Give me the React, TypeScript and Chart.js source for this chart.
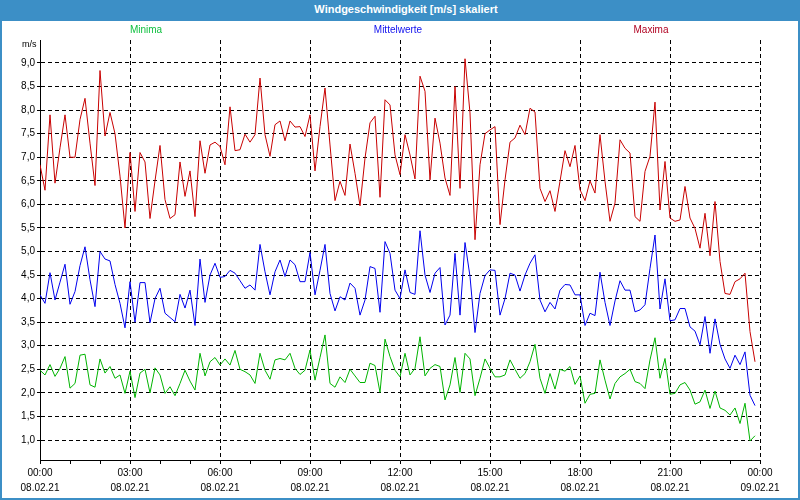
import React, { useEffect, useRef } from "react";
import { Chart, registerables } from "chart.js";

Chart.register(...registerables);

// 10-minute samples, 08.02.21 00:00 .. 23:50
const stepMinutes = 10;

const maxima = [
  6.84, 6.3, 7.9, 6.45, 7.2, 7.9, 7.0, 7.0, 7.8, 8.25, 7.3, 6.4, 8.84, 7.45, 7.95, 7.5, 6.6, 5.5, 7.1, 5.85, 7.1, 6.9, 5.7, 6.5, 7.25,
  6.1, 5.7, 5.78, 6.9, 6.17, 6.71, 5.74, 7.35, 6.66, 7.26, 7.32, 7.23, 6.84, 8.07, 7.14, 7.16, 7.49, 7.32, 7.48, 8.68, 7.48, 7.02, 7.69, 7.77,
  7.35, 7.77, 7.64, 7.65, 7.44, 7.9, 6.71, 7.65, 8.47, 7.26, 6.08, 6.49, 6.19, 7.28, 6.66, 5.97, 6.98, 7.73, 7.87, 6.15, 8.22, 8.11, 7.05, 6.63,
  7.48, 7.05, 6.54, 8.72, 8.4, 6.52, 7.83, 7.3, 6.56, 6.19, 8.5, 6.34, 9.09, 7.94, 5.25, 6.84, 7.5, 7.58, 7.65, 5.57, 6.52, 7.32, 7.41, 7.68,
  7.48, 8.04, 7.96, 6.34, 6.06, 6.29, 5.85, 6.49, 7.14, 6.8, 7.25, 6.31, 6.08, 6.5, 6.24, 7.48, 6.49, 5.64, 6.03, 7.37, 7.19, 7.09, 5.74, 5.64,
  6.7, 7.02, 8.17, 5.88, 6.91, 5.71, 5.64, 5.67, 6.38, 5.71, 5.49, 5.07, 5.81, 4.91, 6.06, 4.79, 4.11, 4.09, 4.36, 4.42, 4.54, 3.3, 2.66,
];

const mittelwerte = [
  4.08, 3.9, 4.55, 3.97, 4.35, 4.73, 3.88, 4.15, 4.7, 5.1, 4.4, 3.83, 5.0, 4.84, 4.8, 4.3, 3.9, 3.38, 4.36, 3.5, 4.34, 4.34, 3.49, 4.0, 4.22,
  3.69, 3.6, 3.51, 4.09, 3.8, 4.18, 3.43, 4.84, 3.92, 4.5, 4.75, 4.45, 4.47, 4.6, 4.54, 4.38, 4.22, 4.29, 4.18, 5.15, 4.57, 4.08, 4.57, 4.82,
  4.47, 4.82, 4.72, 4.36, 4.36, 4.98, 4.08, 4.6, 5.15, 4.11, 3.74, 4.04, 3.97, 4.33, 4.22, 3.65, 3.97, 4.68, 4.64, 3.71, 5.21, 4.96, 4.18, 4.0,
  4.61, 4.13, 4.09, 5.44, 4.5, 4.13, 4.54, 4.66, 3.44, 3.65, 4.96, 3.65, 5.19, 4.47, 3.28, 4.11, 4.49, 4.61, 4.6, 3.65, 4.0, 4.54, 4.5, 4.16,
  4.5, 4.75, 4.93, 3.97, 3.72, 3.92, 3.78, 4.18, 4.3, 4.29, 4.08, 4.08, 3.43, 3.69, 3.64, 4.56, 3.92, 3.43, 3.95, 4.38, 4.18, 4.18, 3.72, 3.76,
  3.87, 4.64, 5.35, 3.78, 4.42, 3.53, 3.55, 3.79, 3.79, 3.4, 3.31, 3.02, 3.62, 2.84, 3.57, 3.03, 2.72, 2.52, 2.8, 2.6, 2.87, 1.95, 1.73,
];

const minima = [
  2.48, 2.38, 2.6, 2.35, 2.52, 2.77, 2.1, 2.2, 2.8, 2.82, 2.17, 2.12, 2.72, 2.42, 2.56, 2.31, 2.38, 1.99, 2.46, 1.9, 2.42, 2.5, 2.0, 2.53, 2.38,
  1.99, 2.13, 1.94, 2.2, 2.48, 2.25, 2.06, 2.84, 2.36, 2.66, 2.75, 2.59, 2.72, 2.59, 2.9, 2.5, 2.45, 2.38, 2.2, 2.84, 2.48, 2.29, 2.7, 2.73,
  2.7, 2.84, 2.52, 2.39, 2.48, 2.91, 2.27, 2.75, 3.23, 2.2, 2.12, 2.34, 2.22, 2.5, 2.36, 2.22, 2.22, 2.63, 2.58, 2.01, 3.14, 2.77, 2.48, 2.34,
  2.84, 2.38, 2.52, 3.19, 2.36, 2.52, 2.6, 2.56, 1.85, 2.17, 2.75, 2.01, 2.84, 2.72, 1.94, 2.31, 2.72, 2.52, 2.34, 2.34, 2.38, 2.7, 2.5, 2.31,
  2.41, 2.66, 3.03, 2.31, 1.99, 2.41, 2.08, 2.5, 2.46, 2.56, 2.18, 2.36, 1.78, 1.97, 1.99, 2.7, 2.27, 1.87, 2.2, 2.34, 2.41, 2.5, 2.24, 2.2,
  2.09, 2.7, 3.17, 2.31, 2.73, 1.97, 1.99, 2.17, 2.22, 2.06, 1.76, 1.81, 2.06, 1.67, 2.04, 1.68, 1.63, 1.53, 1.68, 1.35, 1.78, 0.98, 1.09,
];

const yTicks = [1.0, 1.5, 2.0, 2.5, 3.0, 3.5, 4.0, 4.5, 5.0, 5.5, 6.0, 6.5, 7.0, 7.5, 8.0, 8.5, 9.0];
const hourTicks = [0, 60, 120, 180, 240, 300, 360, 420, 480, 540, 600, 660, 720, 780, 840, 900, 960, 1020, 1080, 1140, 1200, 1260, 1320, 1380, 1440];
const majorTicks = [0, 180, 360, 540, 720, 900, 1080, 1260, 1440];
const majorTimes = ["00:00", "03:00", "06:00", "09:00", "12:00", "15:00", "18:00", "21:00", "00:00"];
const majorDates = ["08.02.21", "08.02.21", "08.02.21", "08.02.21", "08.02.21", "08.02.21", "08.02.21", "08.02.21", "09.02.21"];

const FONT = "'Liberation Sans', Arial, sans-serif";
const RED = "#c80000";
const BLUE = "#0000ee";
const GREEN = "#00b400";
const FRAME = "#3c8fc6";

const toPoints = (arr: number[]) => arr.map((v, i) => ({ x: i * stepMinutes, y: v }));

export default function App() {
  const canvasRef = useRef<HTMLCanvasElement | null>(null);

  useEffect(() => {
    if (!canvasRef.current) return;
    const chart = new Chart(canvasRef.current, {
      type: "line",
      data: {
        datasets: [
          { label: "Maxima", data: toPoints(maxima), borderColor: RED, borderWidth: 1, pointRadius: 0, tension: 0, fill: false },
          { label: "Mittelwerte", data: toPoints(mittelwerte), borderColor: BLUE, borderWidth: 1, pointRadius: 0, tension: 0, fill: false },
          { label: "Minima", data: toPoints(minima), borderColor: GREEN, borderWidth: 1, pointRadius: 0, tension: 0, fill: false },
        ],
      },
      options: {
        responsive: false,
        animation: false,
        events: [],
        layout: { padding: { left: 0, right: 40, top: 40, bottom: 0 } },
        plugins: { legend: { display: false }, title: { display: false }, tooltip: { enabled: false } },
        scales: {
          x: {
            type: "linear",
            min: 0,
            max: 1440,
            afterBuildTicks: (scale: any) => {
              scale.ticks = hourTicks.map((v) => ({ value: v }));
            },
            afterFit: (scale: any) => {
              scale.height = 40;
            },
            ticks: {
              autoSkip: false,
              maxRotation: 0,
              minRotation: 0,
              padding: 2,
              color: "#000",
              font: { family: FONT, size: 10, lineHeight: 1.5 },
              callback: (value: any) => {
                const k = majorTicks.indexOf(Number(value));
                return k >= 0 ? [majorTimes[k], majorDates[k]] : "";
              },
            },
            grid: {
              color: (ctx: any) => {
                const v = ctx.tick ? ctx.tick.value : -1;
                return v > 0 && v % 180 === 0 ? "#000" : "rgba(0,0,0,0)";
              },
              lineWidth: 1,
              drawTicks: true,
              tickLength: 4,
              tickColor: "#000",
              tickBorderDash: [],
            },
            border: { display: true, color: "#000", width: 1, dash: [4, 3] },
          },
          y: {
            type: "linear",
            min: 0.5756,
            max: 9.488,
            afterBuildTicks: (scale: any) => {
              scale.ticks = yTicks.map((v) => ({ value: v }));
            },
            afterFit: (scale: any) => {
              scale.width = 40;
            },
            ticks: {
              padding: 2,
              color: "#000",
              font: { family: FONT, size: 10 },
              callback: (value: any) => Number(value).toFixed(1).replace(".", ","),
            },
            grid: {
              color: "#000",
              lineWidth: 1,
              drawTicks: true,
              tickLength: 3,
              tickColor: "#000",
              tickBorderDash: [4, 3],
            },
            border: { display: true, color: "#000", width: 1, dash: [4, 3] },
          },
        },
      },
    } as any);
    return () => chart.destroy();
  }, []);

  const legendStyle = (x: number, color: string): React.CSSProperties => ({
    position: "absolute",
    left: x,
    top: 24,
    transform: "translateX(-50%)",
    font: `10px ${FONT}`,
    color,
    whiteSpace: "nowrap",
  });

  return (
    <div style={{ position: "fixed", left: 0, top: 0, width: 800, height: 500, background: "#fff", overflow: "hidden" }}>
      <canvas ref={canvasRef} width={800} height={500} style={{ position: "absolute", left: 0, top: 0, width: 800, height: 500 }} />
      <div style={{ position: "absolute", left: 0, top: 0, width: 800, height: 21, background: FRAME }}>
        <span
          style={{
            position: "absolute",
            left: 406,
            top: 3,
            transform: "translateX(-50%)",
            font: `bold 11px ${FONT}`,
            color: "#fff",
            whiteSpace: "nowrap",
          }}
        >
          Windgeschwindigkeit [m/s] skaliert
        </span>
      </div>
      <span style={legendStyle(146, "#10c040")}>Minima</span>
      <span style={legendStyle(398, "#1010ee")}>Mittelwerte</span>
      <span style={legendStyle(651, "#b00020")}>Maxima</span>
      <span style={{ position: "absolute", left: 22, top: 39, font: `9px ${FONT}`, color: "#000", whiteSpace: "nowrap" }}>m/s</span>
      <div
        style={{
          position: "absolute",
          left: 0,
          top: 0,
          width: 800,
          height: 500,
          boxSizing: "border-box",
          border: `2px solid ${FRAME}`,
          pointerEvents: "none",
        }}
      />
    </div>
  );
}
